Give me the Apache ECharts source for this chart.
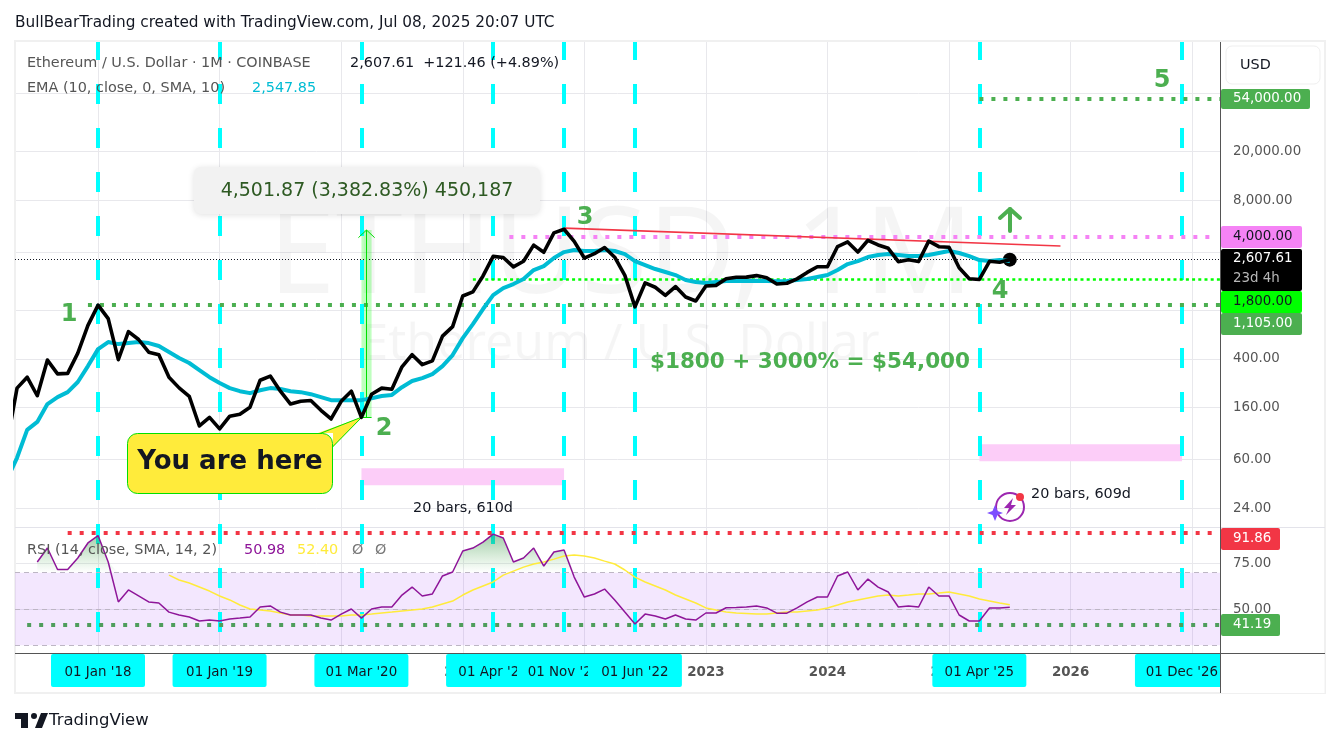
<!DOCTYPE html>
<html>
<head>
<meta charset="utf-8">
<title>ETHUSD 1M</title>
<script src="https://cdn.jsdelivr.net/npm/echarts@6/dist/echarts.min.js"></script>
<style>
  html, body { margin: 0; padding: 0; background: #fff; }
  #main { width: 1340px; height: 745px; }
</style>
</head>
<body>
<div id="main"></div>
<script>
// x axis is months counted from Jan 2018 (0 = Jan '18), first bar is Apr 2017
const firstMonth = -9;
const priceClose = [80, 231, 284, 200, 392, 302, 305, 447, 755, 1105, 856, 395, 670, 578, 455, 433, 283, 232, 198, 113, 133,
  107, 136, 141, 161, 268, 290, 218, 171, 180, 183, 152, 129, 180, 218, 133, 206, 231, 226, 345, 434, 360, 386, 616, 737,
  1314, 1419, 1918, 2773, 2714, 2275, 2533, 3431, 3000, 4323, 4630, 3680, 2688, 2920, 3280, 2730, 1940, 1070, 1680, 1550,
  1330, 1570, 1290, 1195, 1585, 1605, 1820, 1870, 1875, 1930, 1855, 1645, 1670, 1815, 2050, 2280, 2283, 3340, 3645, 3010,
  3760, 3440, 3230, 2510, 2600, 2515, 3700, 3330, 3300, 2235, 1820, 1795, 2530, 2485, 2607.61];
const emaValues = [41, 62, 105, 122, 171, 195, 214, 259, 350, 482, 551, 530, 540, 551, 540, 511, 456, 408, 371, 324, 284,
  254, 231, 218, 210, 222, 231, 227, 218, 214, 206, 195, 184, 184, 184, 184, 191, 199, 203, 235, 264, 279, 301, 350, 431,
  593, 773, 1027, 1337, 1526, 1645, 1808, 2144, 2311, 2689, 3008, 3124, 3070, 3070, 3124, 3070, 2898, 2540, 2353, 2185,
  2065, 1950, 1774, 1708, 1677, 1708, 1742, 1742, 1742, 1750, 1742, 1735, 1742, 1774, 1808, 1877, 1950, 2144, 2400, 2540,
  2740, 2845, 2898, 2845, 2790, 2790, 2845, 2955, 3070, 2955, 2790, 2590, 2540, 2590, 2547.85];
// RSI starts at Jul 2017, its SMA at Aug 2018
const rsiStart = -6;
const rsiValues = [75.9, 83.6, 71.8, 71.8, 78.1, 86.4, 90.5, 75.9, 53.9, 60.5, 57.2, 53.9, 53.3, 48.3, 46.7, 45.6, 43.4, 43.9,
  43.4, 44.5, 45, 45.6, 51.1, 51.7, 48.3, 46.7, 46.7, 46.7, 45, 43.9, 47.2, 50, 45, 50, 51.1, 51.1, 57.7, 62.1, 57.2, 58.3,
  68.2, 70.4, 82, 83.6, 86.9, 91.3, 89.1, 75.9, 78.1, 83.6, 73.7, 81.4, 82.5, 67.6, 56.6, 58.3, 61, 55, 48.3, 41.7, 47.2,
  46.1, 44.5, 46.7, 44.5, 43.9, 47.8, 47.8, 50.7, 50.8, 51.1, 51.7, 50.6, 47.7, 47.7, 50.6, 53.9, 56.6, 56.6, 68.2, 70.4,
  60.5, 66.5, 62.1, 59.4, 51.1, 51.7, 51.1, 62.1, 57.2, 57.2, 46.7, 43.4, 43.4, 50.6, 50.6, 50.98];
const smaStart = 7;
const rsiSma = [68.7, 66, 64.3, 62.1, 59.9, 57.2, 55, 52.2, 50, 49.4, 48.9, 47.8, 46.7, 46.7, 46.1, 46.1, 46.1, 46.1, 46.7, 46.7,
  47.2, 47.8, 48.3, 48.9, 49.4, 50, 51.1, 52.8, 54.4, 57.7, 60.5, 62.7, 64.9, 68.7, 70.9, 73.1, 74.8, 75.9, 77.5, 79.2, 79.8,
  79.2, 78.1, 76.4, 74.8, 71.5, 67.6, 64.9, 62.7, 60.5, 57.7, 55.5, 53.3, 50.6, 49.4, 48.3, 47.8, 47.5, 47.2, 47.2, 47.8,
  48.3, 48.3, 48.9, 49.4, 50.6, 52.2, 53.9, 55, 56.1, 57.2, 57.7, 57.2, 57.7, 58.3, 58.3, 58.8, 59.4, 58.3, 57.2, 55.5, 54.4,
  53.3, 52.4];

const yearTicks = [0, 12, 24, 36, 48, 60, 72, 84, 96, 108];
const yearLabels = ['2018', '2019', '2020', '2021', '2022', '2023', '2024', '2025', '2026', '2027'];
const priceGrid = [60000, 20000, 8000, 3000, 1000, 400, 160, 60, 24];
const priceLabels = [20000, 8000, 400, 160, 60, 24];
const rsiGrid = [75, 50];

const cycleMonths = [0, 12, 26, 39, 46, 53, 87, 107];
const cycleLabels = ["01 Jan '18", "01 Jan '19", "01 Mar '20", "01 Apr '21", "01 Nov '21", "01 Jun '22", "01 Apr '25", "01 Dec '26"];
const levels = { top: 54000, pink: 4000, last: 2607.61, support: 1800, low: 1105, rsiHigh: 91.86, rsiLow: 41.19 };

const FONT = '"DejaVu Sans", sans-serif';
const WM_FONT = '"Noto Sans", sans-serif';
const X_MIN = -8.2, X_MAX = 110.75;
const P_MIN = 16.8, P_MAX = 158500;
const R_MIN = 25.76, R_MAX = 95.2;
const GREEN = '#4caf50', RED = '#f23645', PINK = '#f583f5', CYAN = '#00ffff';

const pairs = (start, arr) => arr.map((v, i) => [start + i, v]);
const money = v => v.toLocaleString('en-US', { minimumFractionDigits: 2, maximumFractionDigits: 2 });

// empty line series that only carries drawn lines
function lineTool(name, axis, segments, style, z) {
  return {
    name, type: 'line', xAxisIndex: axis, yAxisIndex: axis, data: [], z: z || 3, silent: true,
    markLine: {
      silent: true, animation: false, symbol: 'none', label: { show: false },
      emphasis: { disabled: true }, lineStyle: style,
      data: segments.map(s => [{ coord: [s[0], s[1]] }, { coord: [s[2], s[3]] }])
    }
  };
}
function boxTool(name, axis, boxes, color, z) {
  return {
    name, type: 'line', xAxisIndex: axis, yAxisIndex: axis, data: [], z: z || 1, silent: true,
    markArea: {
      silent: true, animation: false, label: { show: false }, itemStyle: { color },
      data: boxes.map(b => [{ coord: [b[0], b[1]] }, { coord: [b[2], b[3]] }])
    }
  };
}
const dotted = (color, width, dash) => ({ color, width: width || 4, type: dash || [4, 8], opacity: 1, cap: 'butt' });

const series = [
  boxTool('rsi band', 1, [[X_MIN, 70, X_MAX, 30]], 'rgba(160,60,250,0.12)', 4),
  boxTool('pink boxes', 0, [[26, 51, 46, 37], [87, 80, 107, 58]], '#fccdf8'),
  lineTool('cycles', 0, cycleMonths.map(m => [m, P_MAX, m, P_MIN]), { color: CYAN, width: 4, type: [20, 24], dashOffset: 2, opacity: 1 }),
  lineTool('cycles rsi', 1, cycleMonths.map(m => [m, R_MAX, m, 35.7]), { color: CYAN, width: 4, type: [20, 24], dashOffset: 3, opacity: 1 }),
  lineTool('last', 0, [[X_MIN, levels.last, X_MAX, levels.last]], { color: '#131722', width: 1, type: [1, 2], opacity: 1 }),
  lineTool('low', 0, [[-1, levels.low, X_MAX, levels.low]], dotted(GREEN)),
  lineTool('top', 0, [[87, levels.top, X_MAX, levels.top]], dotted(GREEN)),
  lineTool('pink', 0, [[40.6, levels.pink, 110, levels.pink]], dotted(PINK)),
  lineTool('support', 0, [[37, levels.support, X_MAX, levels.support]], dotted('#00ff00', 2.5, [3, 3.2])),
  lineTool('rsi high', 1, [[-3, levels.rsiHigh, 110, levels.rsiHigh]], dotted(RED)),
  lineTool('rsi low', 1, [[-7, levels.rsiLow, X_MAX, levels.rsiLow]], dotted('#4f9d5c')),
  boxTool('measure', 0, [[26, 4560, 27, 133]], 'rgba(0,255,0,0.25)', 5),
  lineTool('measure line', 0, [[26.5, 133, 26.5, 4560], [25.7, 3950, 26.5, 4560], [27.3, 3950, 26.5, 4560], [26, 133, 27, 133]],
    { color: '#00e000', width: 1, type: 'solid', opacity: 1 }, 6),
  lineTool('trend', 0, [[46, 4730, 95, 3372]], { color: RED, width: 1.6, type: 'solid', opacity: 1 }, 7),
  {
    name: 'EMA', type: 'line', xAxisIndex: 0, yAxisIndex: 0, data: pairs(firstMonth, emaValues),
    showSymbol: false, symbol: 'none', z: 8, lineStyle: { color: '#00bcd4', width: 4, join: 'round' }
  },
  {
    name: 'ETHUSD', type: 'line', xAxisIndex: 0, yAxisIndex: 0, data: pairs(firstMonth, priceClose),
    showSymbol: false, symbol: 'none', z: 12, lineStyle: { color: '#000', width: 3.6, join: 'round', cap: 'round' },
    markPoint: {
      silent: true, animation: false, symbol: 'circle', symbolSize: 14, itemStyle: { color: '#000' }, label: { show: false },
      data: [{ coord: [90, levels.last] }]
    }
  },
  {
    name: 'RSI fill', type: 'line', xAxisIndex: 1, yAxisIndex: 1,
    data: pairs(rsiStart, rsiValues).map(p => [p[0], Math.max(p[1], 70)]),
    showSymbol: false, symbol: 'none', z: 5, lineStyle: { width: 0 },
    areaStyle: {
      origin: 70,
      color: { type: 'linear', x: 0, y: 0, x2: 0, y2: 1, colorStops: [
        { offset: 0, color: 'rgba(46,140,60,0.65)' }, { offset: 1, color: 'rgba(76,175,80,0)' }] }
    }
  },
  {
    name: 'RSI SMA', type: 'line', xAxisIndex: 1, yAxisIndex: 1, data: pairs(smaStart, rsiSma),
    showSymbol: false, symbol: 'none', z: 7, lineStyle: { color: '#ffeb3b', width: 1.5 }
  },
  {
    name: 'RSI', type: 'line', xAxisIndex: 1, yAxisIndex: 1, data: pairs(rsiStart, rsiValues),
    showSymbol: false, symbol: 'none', z: 8, lineStyle: { color: '#8e1599', width: 1.5 }
  }
];

// ---- text and overlays
const overlay = [];
function text(x, y, str, color, size, opts) {
  opts = opts || {};
  overlay.push({
    type: 'text', x, y, z: opts.z || 30, silent: true,
    style: {
      text: str, fill: color, textAlign: opts.align || 'left', textVerticalAlign: 'middle',
      font: (opts.weight || 'normal') + ' ' + size + 'px ' + (opts.family || FONT)
    }
  });
}
function rect(x, y, w, h, fill, r, z, extra) {
  overlay.push({
    type: 'rect', z: z || 30, silent: true, shape: { x, y, width: w, height: h, r: r || 0 },
    style: Object.assign({ fill }, extra || {})
  });
}
function poly(points, style, z, open) {
  overlay.push({ type: open ? 'polyline' : 'polygon', z: z || 30, silent: true, shape: { points }, style });
}
function circle(cx, cy, r, style, z) {
  overlay.push({ type: 'circle', z: z || 30, silent: true, shape: { cx, cy, r }, style });
}

// frame and dividers
rect(15, 41, 1310, 652, 'none', 0, 1, { stroke: '#f0f0f0', lineWidth: 2 });
rect(1220.5, 654, 104, 39, '#fff', 0, 34);
rect(1220, 42, 1, 651, '#555', 0, 35);
rect(15, 653, 1310, 1, '#555', 0, 35);
rect(15, 527, 1310, 1, '#e3e3ea', 0, 2);

text(15, 23, 'BullBearTrading created with TradingView.com, Jul 08, 2025 20:07 UTC', '#131722', 15.3);
text(27, 63, 'Ethereum / U.S. Dollar · 1M · COINBASE', '#555', 14.4);
text(350, 63, money(levels.last) + '  +121.46 (+4.89%)', '#131722', 14.4);
text(27, 88, 'EMA (10, close, 0, SMA, 10)', '#555', 14.4);
text(252, 88, '2,547.85', '#00bcd4', 14.4);
text(27, 550, 'RSI (14, close, SMA, 14, 2)', '#555', 14.4);
text(244, 550, '50.98', '#8e1599', 14.4);
text(297, 550, '52.40', '#ffeb3b', 14.4);
text(352, 550, 'Ø', '#777', 14.4);
text(375, 550, 'Ø', '#777', 14.4);

// watermark
text(621, 259, 'ETHUSD, 1M', 'rgba(0,0,0,0.04)', 121, { align: 'center', z: 1, family: WM_FONT });
text(620, 345, 'Ethereum / U.S. Dollar', 'rgba(0,0,0,0.04)', 50, { align: 'center', z: 1, family: WM_FONT });

// annotations
rect(194, 167, 346, 47, '#f2f2f2', 7, 22, { shadowColor: 'rgba(0,0,0,0.12)', shadowBlur: 6, shadowOffsetY: 1 });
text(367, 191, '4,501.87 (3,382.83%) 450,187', '#2e5a23', 19, { align: 'center' });
rect(127.5, 433.5, 205, 60, '#ffeb3b', 10, 11, { stroke: '#00e000', lineWidth: 1 });
poly([[318, 433], [362, 417], [333, 447], [333, 433]], { fill: '#ffeb3b' }, 11);
poly([[320, 433.5], [362, 417], [332.5, 447]], { fill: 'none', stroke: '#00e000', lineWidth: 1 }, 11, true);
text(230, 462, 'You are here', '#131722', 26, { align: 'center', weight: '600' });
text(69, 315, '1', GREEN, 24, { align: 'center', weight: '600' });
text(384, 429, '2', GREEN, 24, { align: 'center', weight: '600' });
text(585, 218, '3', GREEN, 24, { align: 'center', weight: '600' });
text(1000, 292, '4', GREEN, 24, { align: 'center', weight: '600' });
text(1162, 81, '5', GREEN, 24, { align: 'center', weight: '600' });
text(810, 362, '$1800 + 3000% = $54,000', GREEN, 21.5, { align: 'center', weight: '600' });
text(463, 508, '20 bars, 610d', '#131722', 14.4, { align: 'center' });
text(1081, 494, '20 bars, 609d', '#131722', 14.4, { align: 'center' });
poly([[1010, 231], [1010, 209]], { fill: 'none', stroke: GREEN, lineWidth: 4, lineCap: 'round' }, 30, true);
poly([[1000, 218], [1010, 209], [1020, 218]], { fill: 'none', stroke: GREEN, lineWidth: 4, lineCap: 'round', lineJoin: 'round' }, 30, true);

// purple icon next to the second count
circle(1010, 507, 14, { fill: 'none', stroke: '#9c27b0', lineWidth: 2 });
poly([[1013, 498], [1004, 508], [1009, 508], [1006, 515], [1016, 505], [1011, 505]], { fill: '#9c27b0' });
circle(1020, 497, 4, { fill: RED }, 31);
poly([[995, 505], [997.5, 511], [1003, 513], [997.5, 515], [995, 521], [992.5, 515], [987, 513], [992.5, 511]], { fill: '#7c4dff' }, 31);

// price scale tags
function tag(y, h, w, fill, color, str) {
  rect(1221, y, w, h, fill, 2, 32);
  text(1233, y + h / 2, str, color, 13.4, { z: 33 });
}
rect(1226, 46, 94, 38, '#fff', 6, 30, { stroke: '#efefef', lineWidth: 1 });
text(1240, 65, 'USD', '#131722', 14.4);
tag(89, 20, 89, GREEN, '#fff', money(levels.top));
tag(226, 22, 81, PINK, '#131722', money(levels.pink));
rect(1221, 249, 81, 42, '#000', 2, 32);
text(1233, 259, money(levels.last), '#fff', 13.4, { z: 33 });
text(1233, 279, '23d 4h', '#b8b8b8', 13.4, { z: 33 });
tag(291, 22, 81, '#00ff00', '#131722', money(levels.support));
tag(313, 22, 81, GREEN, '#fff', money(levels.low));
tag(528, 22, 59, RED, '#fff', money(levels.rsiHigh));
tag(614, 22, 59, GREEN, '#fff', money(levels.rsiLow));

// cyan date tags on the time scale, later ones cover earlier ones
cycleMonths.forEach((m, i) => {
  const cx = 98 + (m * 1205) / (X_MAX - X_MIN);
  rect(cx - 47, 654, 94, 33, CYAN, 2, 31);
  text(cx, 673, cycleLabels[i], '#131722', 13.4, { align: 'center', z: 31 });
});

// TradingView logo
poly([[15, 713], [28, 713], [28, 728], [21, 728], [21, 719], [15, 719]], { fill: '#131722' });
poly([[35, 728], [41, 713], [48, 713], [42, 728]], { fill: '#131722' });
circle(34, 716, 3, { fill: '#131722' });
text(49, 721, 'TradingView', '#131722', 16.5, { weight: '500' });

const gridStyle = { show: true, lineStyle: { color: '#e8e8ec', width: 1 } };
const option = {
  animation: false,
  backgroundColor: '#fff',
  grid: [
    { left: 15, width: 1205, top: 42, height: 485 },
    { left: 15, width: 1205, top: 527, height: 126 }
  ],
  xAxis: [0, 1].map(i => ({
    type: 'value', gridIndex: i, min: X_MIN, max: X_MAX,
    axisLine: { show: false },
    axisTick: { show: false, customValues: yearTicks },
    splitLine: gridStyle,
    axisLabel: i === 0 ? { show: false, customValues: yearTicks } : {
      show: true, customValues: yearTicks, margin: 13, color: '#555', fontFamily: FONT, fontSize: 13.4, fontWeight: 600,
      formatter: v => yearLabels[yearTicks.indexOf(v)]
    }
  })),
  yAxis: [
    {
      type: 'log', logBase: 10, gridIndex: 0, position: 'right', min: P_MIN, max: P_MAX,
      axisLine: { show: false },
      axisTick: { show: false, customValues: priceGrid },
      splitLine: gridStyle,
      axisLabel: { customValues: priceLabels, color: '#555', fontFamily: FONT, fontSize: 13.4, margin: 13, formatter: v => money(v) }
    },
    {
      type: 'value', gridIndex: 1, position: 'right', min: R_MIN, max: R_MAX,
      axisLine: { show: false },
      axisTick: { show: false, customValues: rsiGrid },
      splitLine: gridStyle,
      axisLabel: { customValues: rsiGrid, color: '#555', fontFamily: FONT, fontSize: 13.4, margin: 13, formatter: v => money(v) }
    }
  ],
  series,
  graphic: { elements: overlay }
};

// dashed band edges of the RSI pane
option.series.push(lineTool('rsi bands', 1, [[X_MIN, 70, X_MAX, 70], [X_MIN, 50, X_MAX, 50], [X_MIN, 30, X_MAX, 30]],
  { color: '#bdb6c4', width: 1, type: [5, 4], opacity: 1 }, 5));

const chart = echarts.init(document.getElementById('main'), null, { renderer: 'canvas' });
chart.setOption(option);
</script>
</body>
</html>
